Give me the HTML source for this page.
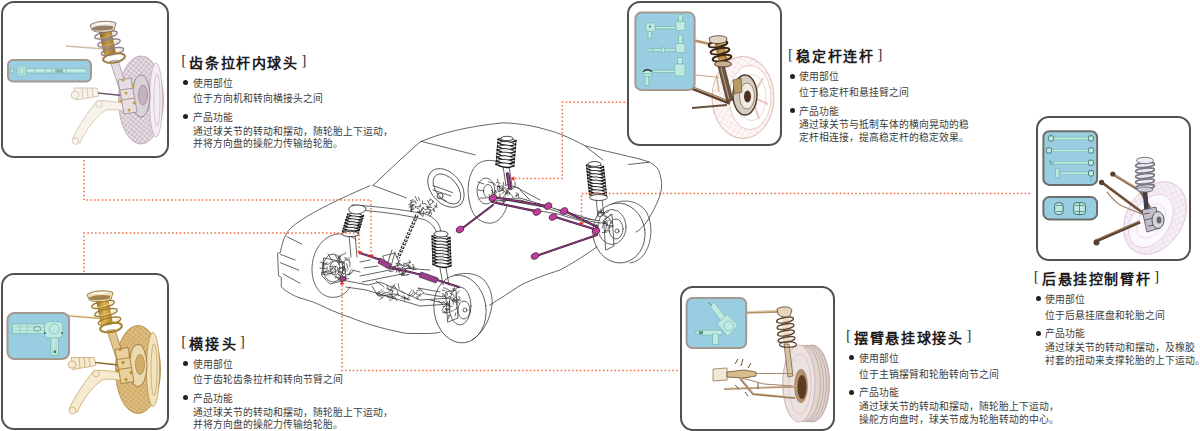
<!DOCTYPE html>
<html lang="zh-CN"><head><meta charset="utf-8">
<style>
html,body{margin:0;padding:0;background:#fff;}
body{width:1200px;height:431px;overflow:hidden;position:relative;font-family:"Liberation Sans",sans-serif;}
.box{position:absolute;box-sizing:border-box;border:2px solid #545050;border-radius:13px;overflow:hidden;}
.box svg{position:absolute;left:-2px;top:-2px;}
.pan{position:absolute;box-sizing:border-box;border:2px solid #a0968e;border-radius:5px;background:#95cce2;overflow:hidden;}
.pan.dk{border-color:#6a6e68;}
svg{position:absolute;left:0;top:0;overflow:visible;}
.ti{position:absolute;white-space:nowrap;font-family:"Liberation Serif",serif;font-size:15.5px;line-height:14px;color:#3a3a3a;}
.tc{display:inline-block;vertical-align:top;font-family:"Liberation Sans",sans-serif;font-size:14px;margin:0 4.2px 0 2.9px;color:#1e1a1a;font-weight:bold;text-align:justify;text-align-last:justify;white-space:nowrap;}
.t{position:absolute;white-space:nowrap;font-size:9.8px;line-height:10px;color:#3c3c3c;text-align:justify;text-align-last:justify;}
.br{position:relative;top:-2.4px;}
.bu{position:absolute;width:5px;height:5px;border-radius:50%;background:#222;}
.nocjk .t{-webkit-text-stroke:0.26px currentColor;font-size:12.8px;color:#585858;}
.nocjk .tc{-webkit-text-stroke:1.5px currentColor;font-size:18.5px;}
</style></head><body>
<svg id="main" width="1200" height="431" viewBox="0 0 1200 431">
<g fill="none" stroke="#333" stroke-width="0.75" stroke-linecap="round" stroke-linejoin="round">
<path d="M370 185.8C355 192 340 199 328 205C314 212 300 220 292 227C289 230 288 231 286.9 233C283.5 238 281.5 246 280.4 252.5L277.6 253.4L278.5 275.7L281.3 277.6L281.3 286.9C285 291 292 295 300 298"/>
<path d="M373 185.4L400 160L420 142C440 133 470 126 503 122.8C515 123 528 125 538 127.4C546 129.5 554 131.5 561 134.4C570 138 578 142 584.4 145.5C600 150 615 153 628.5 156.4C636 158 644 160 649.4 162.2C654 164.5 657 167 658.6 170.3C661 176 662 182 661.5 188C661 192 660 196 658.6 199C656 206 652 213 648 220"/>
<path d="M373 185.4L406.4 197.9"/>
<path d="M421 141.3L475.2 154.9"/>
<path d="M585 146L603 160"/>
<path d="M300 298C315 302 320 305 326.4 308C335 312 342 314.5 349.6 317.2C358 320.5 365 323 372.8 325.4C382 328 389 330 396 331.2C402 332.5 405 333.5 410 333.5H428C433 333.4 437 333 440 332.3"/>
<path d="M489.6 305.2C500 299 510 292 520 285.5C535 278 548 274 560 270C575 262 587 254 597.3 246.6"/>
<path d="M286.9 236.7L301.7 244.1M280.4 254.4L295.2 260M280.4 262.7L298.9 270.2M283.1 273.9L299.9 283.2"/>
<path d="M648 220C644 226 640 230 636 232"/>
<path d="M628.5 164.5L649.4 162.2"/>
<path d="M337 234C322 236 312 252 312 269C312 287 322 298 334 297.3C342 297 347 292 350 287"/>
<path d="M337 234C345 233.5 352 236 356 240"/>
<ellipse cx="460" cy="309" rx="26" ry="34" transform="rotate(-8 460 309)"/>
<path d="M454.8 275C465 272 477 273 484 280C490 287 493 296 492 305C490 320 483 333 472 340"/>
<path d="M469 200C466 185 470 168 480 162.5C486 159.5 493 160 498 162M469 200C471 214 478 223 489.8 223.2C498 223 504 216 507 206"/>
<ellipse cx="619" cy="233" rx="26" ry="30" transform="rotate(-8 619 233)"/>
<path d="M612 204C625 198 640 201 647 213C653 225 652 242 645 253C641 259 636 262 630 263"/>
<ellipse cx="446" cy="188" rx="22" ry="15" transform="rotate(50 446 188)"/>
<ellipse cx="447" cy="189" rx="17.5" ry="10.5" transform="rotate(50 447 189)"/>
<path d="M433 185.6L452.6 192.6M433 190L451 196M437 196.8L446 201"/>
<circle cx="440" cy="196" r="3"/>
<path d="M352 205C372 206 400 209 425 214C435 217 440 224 441 232"/>
<path d="M356 210C376 211 400 214 424 219.5C431 222.5 435 227 436.5 233"/>
<path d="M349 234L351 257M355 234L357 257"/>
<path d="M440 268L443 285M446 268L449 285"/>
<path d="M503 166L506 186M509 166L512 186"/>
<path d="M596 199L598 216M602 199L604 216"/>
<ellipse cx="333" cy="268" rx="10" ry="14"/><ellipse cx="335" cy="268" rx="5" ry="7"/>
<path d="M324 258L344 262L346 280L330 284L322 276Z"/>
<path d="M320 262l6 2M320 268l7 1M322 274l6 1M328 254l3 5M338 256l2 6"/>
<ellipse cx="460" cy="306" rx="11" ry="19"/><ellipse cx="464" cy="310" rx="6" ry="9"/><circle cx="465" cy="310" r="2"/>
<path d="M446 292L456 290L458 318L448 322Z"/>
<ellipse cx="486" cy="191" rx="9" ry="13"/><ellipse cx="488" cy="191" rx="4.5" ry="6.5"/>
<path d="M478 182l6 2M478 190l6 1M480 198l6 0"/>
<ellipse cx="612" cy="227" rx="14" ry="17.5"/><ellipse cx="616" cy="229" rx="7" ry="10"/><circle cx="617" cy="231" r="2"/>
<path d="M604 220L612 214L614 246L606 250Z"/>
<path d="M342 280L368 285L380 282L420 300L452 298M346 287L366 290L420 306L450 304"/>
<path d="M360 276L400 268L430 270M362 282L402 274"/>
<path d="M372 286L378 296L396 294L410 300M376 281L384 287"/>
<path d="M392 250L386 268M395 252L390 270"/>
<path d="M383 256L395 253L400 265L388 268Z"/>
<path d="M360 262L370 260M364 268L378 266M352 270L360 272"/>
<path d="M418 288L440 292M425 294L444 297M430 300L444 303"/>
<path d="M505 200L560 210L600 222M505 205L558 214L598 226"/>
<path d="M514 186L540 200M520 190L530 200"/>
</g>
<path d="M335.9 272.2L334.9 274.2M335.6 269.6L335.6 271.8M341.5 267.3Q344.7 269.3 342.7 272.5M342.1 279.4L337.9 280.1M342.6 266.8Q341.9 268.9 339.8 268.2M345.3 272.9L343.0 274.4M332.3 259.9Q333.2 261.2 331.9 262.1M341.0 278.3L341.7 281.5M332.1 268.9Q331.6 272.3 328.2 271.8M330.6 262.2Q329.2 265.4 326.0 264.0M342.5 264.9Q345.5 266.7 343.8 269.8M336.3 266.0L333.8 270.4M345.2 260.3L342.7 263.9M326.7 271.4L322.9 272.1M351.0 270.0L348.3 275.3M336.5 276.2L335.5 278.0M338.0 272.0Q341.0 270.0 343.0 272.9M339.2 276.9L337.1 277.8M326.9 262.2Q326.0 266.0 322.3 265.2M333.0 271.5Q331.3 275.3 327.5 273.6M339.8 273.1L342.7 275.8M337.5 267.3L338.4 270.6M350.0 262.1L349.8 266.6M353.5 271.0L349.3 274.5M328.5 273.2Q331.3 271.8 332.8 274.7M342.8 270.0Q345.1 269.3 345.7 271.6M342.2 267.5Q344.4 266.4 345.5 268.5M344.9 259.0L347.6 260.3M337.2 270.6L331.9 273.3M332.0 267.9Q334.2 266.8 335.2 269.0M338.0 262.5L343.8 262.9M342.6 276.6L346.7 277.0M345.0 257.3Q347.4 257.3 347.4 259.8M340.8 256.1Q340.6 258.4 338.2 258.2M345.9 253.0L341.3 255.4M337.6 259.2Q339.3 261.0 337.5 262.6M344.2 267.7L347.4 271.1M327.2 272.6L321.4 272.8M338.2 274.2L340.5 275.8M349.0 257.6L349.3 262.2M351.0 273.5L346.0 274.9M333.0 267.8L330.4 269.9M346.4 263.6L348.2 269.1M338.1 271.4L343.1 274.0M348.6 278.7L344.0 279.0M329.9 266.2L335.8 266.5M323.1 262.9L324.3 268.3M338.9 274.1L340.7 276.5M334.8 276.6L340.0 278.8M328.7 270.4L325.2 271.5M327.1 266.9L327.0 268.9M339.5 268.1L337.3 269.7M335.2 255.2L337.3 258.7M339.3 261.8Q340.5 263.5 338.8 264.7M340.0 254.9L339.0 259.9" fill="none" stroke="#2a2a2a" stroke-width="0.7" stroke-linecap="round"/>
<path d="M411.0 207.4L411.0 211.5M411.3 206.1L411.7 211.8M430.9 199.3L433.8 202.4M423.2 203.5Q425.7 202.4 426.7 204.9M423.5 207.2L420.9 211.6M429.8 212.2L428.6 214.4M430.7 205.9L427.1 206.4M434.0 205.6L437.3 207.4M417.2 208.3Q420.5 209.1 419.8 212.4M411.0 204.9L414.3 205.1M420.8 206.7L415.6 206.9M425.6 209.5Q428.4 207.3 430.7 210.2M431.2 210.5Q429.4 213.8 426.2 212.0M431.0 211.6Q432.8 214.5 430.0 216.3M433.4 208.5L433.9 210.8M410.5 200.3Q413.8 198.4 415.7 201.7M427.6 200.6L429.6 204.2M421.5 208.7Q422.9 210.3 421.3 211.7M422.5 207.8L425.1 209.7M422.5 200.8L422.5 203.5M427.0 207.4L431.9 207.6M427.0 212.5L424.7 213.0M413.9 208.7L410.8 210.5M415.1 196.4L417.6 201.1M415.2 201.7Q416.7 202.2 416.2 203.7M432.7 209.4Q434.6 209.4 434.6 211.3M430.4 198.6Q430.9 200.7 428.8 201.3M417.6 212.0Q420.2 211.2 420.9 213.8M436.6 203.4L436.1 206.4M417.0 212.0L420.5 212.0M415.3 205.9Q416.3 206.9 415.3 207.9M429.0 209.9L431.0 210.2M423.5 211.4L423.0 216.3M418.5 197.2L419.6 200.3M430.0 212.2L429.1 214.2M433.0 200.6Q433.2 204.3 429.5 204.5M413.7 204.8L409.2 207.3M411.1 200.7Q411.8 204.0 408.5 204.7M426.9 206.5L427.9 208.7M411.8 202.3L410.0 206.6M436.8 205.7L434.0 208.6M420.9 203.9Q421.0 206.1 418.9 206.2M418.8 213.2L422.7 216.1M412.6 204.8L412.9 209.6M411.8 201.9Q413.4 200.9 414.3 202.5" fill="none" stroke="#2a2a2a" stroke-width="0.7" stroke-linecap="round"/>
<path d="M403.9 263.1Q404.7 264.4 403.5 265.1M404.1 271.8Q404.7 275.0 401.4 275.6M395.1 266.3L395.3 268.7M409.0 274.4L407.0 274.8M409.2 260.2Q411.0 261.5 409.7 263.3M409.9 265.7L409.3 268.2M410.2 266.2L406.8 268.3M404.1 264.2Q402.8 266.6 400.3 265.4M412.9 266.5Q414.7 267.9 413.4 269.7M400.8 270.8L399.1 271.8M408.8 265.4L404.0 266.5M401.0 269.3L403.0 275.0M397.8 270.7Q399.4 270.8 399.3 272.4M409.0 264.5Q407.8 266.2 406.1 265.1M397.2 265.1L399.5 270.5M410.7 262.1L405.1 263.6M404.7 265.1L402.2 267.9M396.9 264.6Q400.2 262.2 402.5 265.5M395.0 266.7L398.0 270.7M402.1 271.9L404.6 275.4M404.4 268.7L408.8 272.2M408.2 274.5Q406.3 276.4 404.4 274.6M404.8 268.9Q406.4 269.4 405.9 271.0M405.8 272.4L401.1 274.1M395.3 269.1Q397.5 270.0 396.6 272.2M399.9 274.0L403.7 275.6M406.9 264.4L408.9 266.7M394.5 269.0Q393.3 272.7 389.6 271.5M416.6 268.6L412.9 269.8M414.7 267.4L409.6 268.6M409.1 267.0L411.6 267.8M400.2 260.1L397.3 263.6M392.1 269.1Q395.0 266.8 397.2 269.7M412.4 264.3Q414.2 264.6 413.9 266.3M395.8 263.2L398.0 264.0" fill="none" stroke="#2a2a2a" stroke-width="0.7" stroke-linecap="round"/>
<path d="M442.9 295.6Q446.0 295.4 446.3 298.5M450.1 312.0L445.6 312.6M443.1 301.2L447.3 305.2M449.5 301.9L449.5 306.6M451.0 314.7Q450.0 316.5 448.2 315.4M447.4 309.7L445.8 312.0M447.2 288.9L451.9 292.4M450.1 293.4Q453.7 293.1 454.0 296.7M455.5 297.8L457.9 299.4M443.5 287.8Q445.8 287.0 446.7 289.4M452.6 300.8L454.8 301.2M459.5 290.8L455.5 295.2M450.4 307.6Q448.4 310.5 445.5 308.6M446.2 292.0Q448.4 292.9 447.5 295.1M454.0 299.6Q457.9 300.8 456.6 304.8M453.3 298.0L455.6 302.8M447.8 301.7L448.1 305.2M453.1 310.7L451.1 311.4M452.3 288.9Q453.5 288.0 454.4 289.2M456.4 296.1L452.5 300.1M449.2 316.1L448.1 318.9M445.4 309.6L450.4 309.7M442.1 290.3L445.0 290.5M458.9 296.4L459.9 299.2M438.2 301.2L442.6 304.0M454.4 287.8L453.3 290.9M442.9 312.5L445.6 313.1M447.9 305.8L452.1 306.3M460.9 300.1Q459.4 301.7 457.8 300.2M457.0 306.9Q457.3 309.6 454.6 309.9M444.5 306.2L441.9 310.4M449.6 296.5L446.8 298.0M442.8 311.0Q444.9 310.6 445.2 312.7M455.8 312.8L455.0 316.0M455.2 299.7L459.1 303.2M453.0 299.1L453.4 304.3M451.0 299.4Q452.7 299.6 452.5 301.3M459.2 299.6L455.8 300.3M447.4 302.7Q447.0 306.8 442.9 306.4M442.2 293.7Q444.6 293.5 444.9 295.9" fill="none" stroke="#2a2a2a" stroke-width="0.7" stroke-linecap="round"/>
<path d="M499.3 196.1Q500.8 199.0 497.9 200.5M504.0 191.4L502.5 193.7M500.0 202.0Q500.9 203.3 499.7 204.2M491.0 196.8Q491.6 198.4 490.0 199.0M493.6 182.9L495.6 185.4M493.0 199.4L494.6 202.7M501.6 190.4Q505.1 189.8 505.6 193.3M506.8 189.9L508.1 195.0M501.6 185.6L503.4 186.6M488.2 181.8L492.5 183.0M491.5 190.3L494.1 193.4M505.4 196.1Q504.7 200.1 500.6 199.4M506.4 200.9Q504.6 203.0 502.5 201.2M505.3 187.7L501.0 189.0M500.8 200.6L503.6 202.9M497.9 186.0L500.6 188.3M492.4 193.3L495.9 196.8M505.8 193.7L504.2 195.2M503.6 196.6L502.9 201.0M489.1 194.5L490.2 199.0M496.2 190.9Q497.3 193.5 494.7 194.6M497.6 179.2L498.0 181.9M499.8 193.7L500.3 196.1M495.3 190.8L494.3 192.9M496.4 182.5L500.3 183.2M503.6 189.2L498.2 191.8M500.9 186.6L496.9 186.9M503.1 187.6Q502.6 191.6 498.6 191.1M488.9 199.8Q492.7 198.7 493.8 202.4M498.7 184.6Q501.5 187.5 498.6 190.3M495.8 200.3Q497.3 200.6 496.9 202.1M504.1 200.3Q505.0 204.2 501.1 205.0M498.0 185.4L497.6 190.0M503.4 182.4Q505.4 185.8 502.0 187.7M504.9 189.1Q508.2 190.7 506.6 194.0" fill="none" stroke="#2a2a2a" stroke-width="0.7" stroke-linecap="round"/>
<path d="M609.8 219.2L611.9 223.7M604.8 230.9Q607.8 228.7 610.1 231.7M598.9 210.6L597.7 215.1M603.7 221.0L607.6 223.0M594.2 220.5L596.8 221.7M603.9 221.0L605.0 223.2M605.5 229.7L604.7 232.4M602.2 222.4Q601.0 224.1 599.3 223.0M612.3 226.4L607.6 228.4M604.8 221.4L603.0 225.2M602.8 215.2Q600.8 218.1 597.9 216.1M605.7 218.8Q607.4 220.7 605.4 222.4M609.3 225.7L613.5 225.9M607.2 224.3L605.8 228.1M604.6 216.1Q606.8 216.5 606.4 218.7M610.7 214.4L609.5 216.0M605.1 212.4Q605.2 215.1 602.5 215.2M605.8 225.3L609.1 225.8M602.1 210.4L600.3 212.8M596.8 224.6L596.5 227.7M609.1 220.4Q608.5 221.7 607.1 221.2M607.1 231.9L602.2 232.7M605.7 215.4L609.8 219.2M603.4 212.7L599.5 213.0M600.8 209.1L601.8 213.9M603.0 226.1L602.1 228.2M602.2 222.6L607.6 224.5M602.6 223.3L607.3 223.9M599.3 211.8L603.6 212.7M608.4 211.7L606.3 212.5" fill="none" stroke="#2a2a2a" stroke-width="0.7" stroke-linecap="round"/>
<path d="M418.1 288.8Q420.7 287.6 421.9 290.2M424.1 292.7L419.0 296.1M389.6 289.7L392.9 290.8M403.4 295.3Q405.3 296.4 404.2 298.3M394.9 296.7L396.8 300.9M378.4 291.4L377.3 294.3M379.0 292.5L382.1 298.3M401.2 298.4Q405.6 296.0 408.1 300.4M413.7 290.3Q413.5 295.9 407.9 295.7M384.8 292.1L381.6 294.5M384.8 295.4Q390.3 295.6 390.1 301.0M404.4 296.9L404.4 300.5M420.6 293.2L416.6 298.8M389.4 293.0Q394.2 295.3 391.8 300.0M401.2 291.0L404.6 293.6M387.2 292.2L383.3 293.7M381.8 289.6L377.3 294.0M398.4 294.0L392.8 296.9M409.9 295.1Q409.6 299.3 405.5 299.0M376.6 293.2L379.5 295.9M391.9 286.0Q394.5 285.2 395.3 287.7M389.9 296.4Q393.1 295.5 394.0 298.6M416.5 290.8Q421.5 288.4 423.9 293.3M384.9 295.6L379.6 299.6M404.5 297.6L408.3 298.9M417.4 292.0L412.3 295.9M386.3 288.2L391.7 290.8M398.1 283.5L399.3 289.2M392.3 291.8L387.5 297.4M394.8 284.2L391.5 289.5M390.2 297.3L395.1 298.9M393.8 285.8L397.4 289.4M390.9 286.6Q392.2 291.9 386.9 293.2M387.1 285.3L389.0 290.5M414.2 292.6L420.2 295.9M393.1 290.0L391.8 295.5M383.3 291.1L378.5 294.0M411.8 289.9L409.1 294.0M416.4 296.4Q418.6 297.1 417.8 299.3M397.1 291.0L398.4 295.9" fill="none" stroke="#2a2a2a" stroke-width="0.6" stroke-linecap="round"/>
<path d="M507.6 191.7L511.4 194.9M509.8 188.3Q509.4 190.8 506.9 190.4M518.7 193.8L515.0 196.4M510.2 188.4L506.8 188.7M514.9 181.9L515.2 185.0M516.0 192.7Q519.6 194.0 518.4 197.6M508.8 191.5Q510.5 192.5 509.4 194.2M510.1 184.7L512.4 186.9M507.1 191.3L505.4 194.3M515.6 187.0L510.8 189.9M517.1 194.7Q517.6 196.1 516.2 196.6M517.3 187.2Q519.0 187.2 519.0 188.9M512.1 195.9L513.3 198.2M514.9 186.1L510.8 187.6M510.4 181.8Q509.9 185.5 506.2 185.1" fill="none" stroke="#2a2a2a" stroke-width="0.7" stroke-linecap="round"/>
<path d="M417 215L398 258" fill="none" stroke="#222" stroke-width="3.4" stroke-dasharray="2.6 1.2"/>
<path d="M417 215L398 258" fill="none" stroke="#fff" stroke-width="1.4" stroke-dasharray="1.6 2.2"/>
<g fill="#fff" stroke="#141414" stroke-linecap="round"><path d="M347.5 214.2Q355.5 219.4 363.5 215.8" stroke-width="1.5"/><path d="M347.5 214.2Q355.5 211.2 363.5 215.8" stroke-width="0.83"/><path d="M346.7 217.1Q354.7 222.2 362.7 218.6" stroke-width="1.5"/><path d="M346.7 217.1Q354.7 214.0 362.7 218.6" stroke-width="0.83"/><path d="M345.8 219.9Q353.8 225.0 361.8 221.4" stroke-width="1.5"/><path d="M345.8 219.9Q353.8 216.8 361.8 221.4" stroke-width="0.83"/><path d="M345.0 222.7Q353.0 227.9 361.0 224.3" stroke-width="1.5"/><path d="M345.0 222.7Q353.0 219.7 361.0 224.3" stroke-width="0.83"/><path d="M344.2 225.6Q352.2 230.7 360.2 227.1" stroke-width="1.5"/><path d="M344.2 225.6Q352.2 222.5 360.2 227.1" stroke-width="0.83"/><path d="M343.3 228.4Q351.3 233.5 359.3 229.9" stroke-width="1.5"/><path d="M343.3 228.4Q351.3 225.3 359.3 229.9" stroke-width="0.83"/><path d="M342.5 231.2Q350.5 236.4 358.5 232.8" stroke-width="1.5"/><path d="M342.5 231.2Q350.5 228.2 358.5 232.8" stroke-width="0.83"/><path d="M347.5 215.0L342.5 232.0M363.5 215.0L358.5 232.0" stroke-width="0.7"/></g>
<g fill="#fff" stroke="#141414" stroke-linecap="round"><path d="M432.0 236.1Q441.0 241.9 450.0 237.9" stroke-width="1.5"/><path d="M432.0 236.1Q441.0 232.7 450.0 237.9" stroke-width="0.83"/><path d="M432.1 239.2Q441.1 245.0 450.1 241.0" stroke-width="1.5"/><path d="M432.1 239.2Q441.1 235.8 450.1 241.0" stroke-width="0.83"/><path d="M432.2 242.4Q441.2 248.1 450.2 244.1" stroke-width="1.5"/><path d="M432.2 242.4Q441.2 238.9 450.2 244.1" stroke-width="0.83"/><path d="M432.3 245.5Q441.3 251.2 450.3 247.2" stroke-width="1.5"/><path d="M432.3 245.5Q441.3 242.0 450.3 247.2" stroke-width="0.83"/><path d="M432.4 248.6Q441.4 254.3 450.4 250.3" stroke-width="1.5"/><path d="M432.4 248.6Q441.4 245.1 450.4 250.3" stroke-width="0.83"/><path d="M432.6 251.7Q441.6 257.5 450.6 253.4" stroke-width="1.5"/><path d="M432.6 251.7Q441.6 248.2 450.6 253.4" stroke-width="0.83"/><path d="M432.7 254.8Q441.7 260.6 450.7 256.5" stroke-width="1.5"/><path d="M432.7 254.8Q441.7 251.3 450.7 256.5" stroke-width="0.83"/><path d="M432.8 257.9Q441.8 263.7 450.8 259.6" stroke-width="1.5"/><path d="M432.8 257.9Q441.8 254.5 450.8 259.6" stroke-width="0.83"/><path d="M432.9 261.0Q441.9 266.8 450.9 262.8" stroke-width="1.5"/><path d="M432.9 261.0Q441.9 257.6 450.9 262.8" stroke-width="0.83"/><path d="M433.0 264.1Q442.0 269.9 451.0 265.9" stroke-width="1.5"/><path d="M433.0 264.1Q442.0 260.7 451.0 265.9" stroke-width="0.83"/><path d="M432.0 237.0L433.0 265.0M450.0 237.0L451.0 265.0" stroke-width="0.7"/></g>
<g fill="#fff" stroke="#141414" stroke-linecap="round"><path d="M498.0 139.1Q507.0 144.9 516.0 140.9" stroke-width="1.5"/><path d="M498.0 139.1Q507.0 135.7 516.0 140.9" stroke-width="0.83"/><path d="M497.7 142.7Q506.7 148.5 515.7 144.4" stroke-width="1.5"/><path d="M497.7 142.7Q506.7 139.3 515.7 144.4" stroke-width="0.83"/><path d="M497.4 146.3Q506.4 152.0 515.4 148.0" stroke-width="1.5"/><path d="M497.4 146.3Q506.4 142.8 515.4 148.0" stroke-width="0.83"/><path d="M497.1 149.9Q506.1 155.6 515.1 151.6" stroke-width="1.5"/><path d="M497.1 149.9Q506.1 146.4 515.1 151.6" stroke-width="0.83"/><path d="M496.9 153.4Q505.9 159.2 514.9 155.1" stroke-width="1.5"/><path d="M496.9 153.4Q505.9 150.0 514.9 155.1" stroke-width="0.83"/><path d="M496.6 157.0Q505.6 162.8 514.6 158.7" stroke-width="1.5"/><path d="M496.6 157.0Q505.6 153.5 514.6 158.7" stroke-width="0.83"/><path d="M496.3 160.6Q505.3 166.3 514.3 162.3" stroke-width="1.5"/><path d="M496.3 160.6Q505.3 157.1 514.3 162.3" stroke-width="0.83"/><path d="M496.0 164.1Q505.0 169.9 514.0 165.9" stroke-width="1.5"/><path d="M496.0 164.1Q505.0 160.7 514.0 165.9" stroke-width="0.83"/><path d="M498.0 140.0L496.0 165.0M516.0 140.0L514.0 165.0" stroke-width="0.7"/></g>
<g fill="#fff" stroke="#141414" stroke-linecap="round"><path d="M586.5 165.2Q595.0 170.6 603.5 166.8" stroke-width="1.5"/><path d="M586.5 165.2Q595.0 161.9 603.5 166.8" stroke-width="0.83"/><path d="M586.8 168.4Q595.3 173.8 603.8 170.0" stroke-width="1.5"/><path d="M586.8 168.4Q595.3 165.1 603.8 170.0" stroke-width="0.83"/><path d="M587.2 171.6Q595.7 177.1 604.2 173.3" stroke-width="1.5"/><path d="M587.2 171.6Q595.7 168.4 604.2 173.3" stroke-width="0.83"/><path d="M587.5 174.9Q596.0 180.3 604.5 176.5" stroke-width="1.5"/><path d="M587.5 174.9Q596.0 171.6 604.5 176.5" stroke-width="0.83"/><path d="M587.8 178.1Q596.3 183.5 604.8 179.7" stroke-width="1.5"/><path d="M587.8 178.1Q596.3 174.8 604.8 179.7" stroke-width="0.83"/><path d="M588.2 181.3Q596.7 186.7 605.2 182.9" stroke-width="1.5"/><path d="M588.2 181.3Q596.7 178.0 605.2 182.9" stroke-width="0.83"/><path d="M588.5 184.5Q597.0 190.0 605.5 186.1" stroke-width="1.5"/><path d="M588.5 184.5Q597.0 181.3 605.5 186.1" stroke-width="0.83"/><path d="M588.8 187.7Q597.3 193.2 605.8 189.4" stroke-width="1.5"/><path d="M588.8 187.7Q597.3 184.5 605.8 189.4" stroke-width="0.83"/><path d="M589.2 191.0Q597.7 196.4 606.2 192.6" stroke-width="1.5"/><path d="M589.2 191.0Q597.7 187.7 606.2 192.6" stroke-width="0.83"/><path d="M589.5 194.2Q598.0 199.6 606.5 195.8" stroke-width="1.5"/><path d="M589.5 194.2Q598.0 190.9 606.5 195.8" stroke-width="0.83"/><path d="M586.5 166.0L589.5 195.0M603.5 166.0L606.5 195.0" stroke-width="0.7"/></g>
<g fill="#fff" stroke="#1e1e1e" stroke-width="0.8"><path d="M349 208C352 204 362 204 366 208C366 212 360 214 356 214C351 214 348 211 349 208Z"/><ellipse cx="350.5" cy="234" rx="8.5" ry="2.6"/><ellipse cx="441" cy="234" rx="7" ry="3"/><ellipse cx="507" cy="138.5" rx="6" ry="2.2"/><ellipse cx="594.5" cy="164" rx="6.5" ry="2.4"/><ellipse cx="598.5" cy="197.5" rx="9" ry="3"/></g>
<path d="M493 200L520 199L547 207L580 218.6L600 222" fill="none" stroke="#333" stroke-width="2.6"/><path d="M493 200L520 199L547 207L580 218.6L600 222" fill="none" stroke="#fff" stroke-width="1.2"/>
<g fill="none" stroke-linecap="round">
<g stroke="#3a1c32" stroke-width="2.1"><path d="M360 253L381 260"/><path d="M389 267L422 275"/><path d="M437 280L459 287"/><path d="M493 197L546 206"/><path d="M492 202L534 211"/><path d="M493 205L462 228.5"/><path d="M552 216L597 230"/><path d="M567 212L597 227"/><path d="M536 256L597 235"/></g>
<g stroke="#a83a92" stroke-width="0.9"><path d="M360 253L381 260"/><path d="M389 267L422 275"/><path d="M437 280L459 287"/><path d="M493 197L546 206"/><path d="M492 202L534 211"/><path d="M493 205L462 228.5"/><path d="M552 216L597 230"/><path d="M567 212L597 227"/><path d="M536 256L597 235"/></g>
</g>
<path d="M507.6 174L510 188" stroke="#3a1c32" stroke-width="3.6" stroke-linecap="round"/><path d="M507.6 174L510 188" stroke="#a83a92" stroke-width="1.8" stroke-linecap="round"/>
<g fill="#9a3f8e" stroke="#4a2440" stroke-width="0.7"><path d="M380 258L391 264L389 269L378 263Z"/><path d="M421 272L438 278L436 283L419 277Z"/><ellipse cx="342.5" cy="279" rx="3" ry="2.5"/></g>
<g fill="#c23c9e" stroke="#4a2440" stroke-width="0.8">
<ellipse cx="548" cy="206" rx="4" ry="3" transform="rotate(-25 548 206)"/>
<ellipse cx="537" cy="212" rx="4" ry="3" transform="rotate(-25 537 212)"/>
<ellipse cx="564" cy="211" rx="4" ry="3" transform="rotate(-25 564 211)"/>
<ellipse cx="553" cy="217" rx="4" ry="3" transform="rotate(-25 553 217)"/>
<ellipse cx="460" cy="229.5" rx="4" ry="3" transform="rotate(-25 460 229.5)"/>
<ellipse cx="535" cy="256" rx="4" ry="3" transform="rotate(-25 535 256)"/>
<ellipse cx="596" cy="231" rx="4" ry="3" transform="rotate(-25 596 231)"/>
<ellipse cx="493" cy="198" rx="4" ry="3" transform="rotate(-25 493 198)"/>
</g><g fill="none" stroke="#f06a3c" stroke-width="1.5" stroke-dasharray="1.5 2.35">
<path d="M84 160V200H371V254"/>
<path d="M84 272V233H359V251"/>
<path d="M342 285V370.5H678"/>
<path d="M625 102.3H562.3V178.6H515"/>
<path d="M1030 193.5H581.5V222"/>
</g>
<g fill="#ec2a1c">
<path d="M369 254.6L373.8 254.6L371.4 258.4Z"/>
<path d="M357.3 251.2L362.1 251.2L359.7 255Z"/>
<path d="M339.6 284.6L344.4 284.6L342 280.8Z"/>
<path d="M514.3 176.2L514.3 181L510.5 178.6Z"/>
<path d="M579.1 222.2L583.9 222.2L581.5 226Z"/>
</g>
</svg>
<div class="box" style="left:1px;top:1px;width:167.5px;height:157px"></div>
<div class="box" style="left:1px;top:273.4px;width:167.5px;height:157px"></div>
<div class="box" style="left:626.5px;top:1px;width:155px;height:145px"></div>
<div class="box" style="left:1036px;top:116px;width:155px;height:145px"></div>
<div class="box" style="left:680px;top:285.5px;width:155px;height:145px"></div>
<svg width="1200" height="431" viewBox="0 0 1200 431">
<defs>
<pattern id="hatA" width="3.6" height="3.6" patternUnits="userSpaceOnUse" patternTransform="rotate(40)"><rect width="3.6" height="3.6" fill="#e6dee4"/><path d="M0 0H3.6M0 0V3.6" stroke="#ab94a3" stroke-width="0.75"/></pattern>
<pattern id="hatB" width="3.6" height="3.6" patternUnits="userSpaceOnUse" patternTransform="rotate(40)"><rect width="3.6" height="3.6" fill="#dfbd7e"/><path d="M0 0H3.6M0 0V3.6" stroke="#b78f45" stroke-width="0.7"/></pattern>
<pattern id="hatC" width="5" height="5" patternUnits="userSpaceOnUse" patternTransform="rotate(30)"><rect width="5" height="5" fill="#fdf8f8"/><path d="M0 0H5M0 0V5" stroke="#e8c2bc" stroke-width="0.6"/></pattern>
<pattern id="hatD" width="5" height="5" patternUnits="userSpaceOnUse" patternTransform="rotate(30)"><rect width="5" height="5" fill="#f6f0f6"/><path d="M0 0H5M0 0V5" stroke="#dcc2da" stroke-width="0.6"/></pattern>
<linearGradient id="gShock" x1="0" y1="0" x2="1" y2="0"><stop offset="0" stop-color="#7a5626"/><stop offset="0.5" stop-color="#c89a48"/><stop offset="1" stop-color="#8a6a30"/></linearGradient>
<linearGradient id="gShockB" x1="0" y1="0" x2="1" y2="0"><stop offset="0" stop-color="#9a7020"/><stop offset="0.5" stop-color="#e0b450"/><stop offset="1" stop-color="#a8802c"/></linearGradient>
<clipPath id="c1"><rect x="3" y="3" width="163" height="153" rx="11"/></clipPath>
<clipPath id="c2"><rect x="3" y="275" width="163" height="153" rx="11"/></clipPath>
<clipPath id="c3"><rect x="628.5" y="3" width="151" height="141" rx="11"/></clipPath>
<clipPath id="c4"><rect x="1038" y="118" width="151" height="141" rx="11"/></clipPath>
<clipPath id="c5"><rect x="682" y="287.5" width="151" height="141" rx="11"/></clipPath>
</defs>
<g clip-path="url(#c1)"><path d="M66 46L104 49" stroke="#cdbda8" stroke-width="1.4" fill="none"/><path d="M66 44.6L104 47.6" stroke="#f7f2ea" stroke-width="0.8" fill="none"/><ellipse cx="141" cy="100" rx="22.5" ry="44" fill="url(#hatA)" stroke="#b7a0ae" stroke-width="0.8"/><ellipse cx="156" cy="100" rx="6.5" ry="37" fill="#f3eef3" stroke="#b7a0ae" stroke-width="0.6"/><ellipse cx="157" cy="100" rx="3" ry="26" fill="none" stroke="#b7a0ae" stroke-width="0.5"/><ellipse cx="141" cy="96" rx="9" ry="21" fill="#dbd1d8" stroke="#8f7d88" stroke-width="0.9"/><ellipse cx="143" cy="95" rx="4.5" ry="10" fill="#c2b3bc" stroke="#8f7d88" stroke-width="0.6"/><path d="M97 101C110 100 124 103 136 107L135 113C122 110 112 109 106 110C95 117 86 130 80 143L72 140C78 126 88 112 97 101Z" fill="#f7f2ea" stroke="#cdbda8" stroke-width="0.8"/><circle cx="99" cy="104" r="3.4" fill="#f7f2ea" stroke="#cdbda8" stroke-width="0.7"/><circle cx="75.5" cy="141" r="3.4" fill="#f7f2ea" stroke="#cdbda8" stroke-width="0.7"/><path d="M74 88L97 88L99 96L76 100Z" fill="#f7f2ea" stroke="#cdbda8" stroke-width="0.8"/><path d="M82 87.5L83 98.5M87 87.5L88 97.8M92 87.8L93 97" stroke="#cdbda8" stroke-width="0.8"/><circle cx="75" cy="95" r="3.8" fill="#f7f2ea" stroke="#cdbda8" stroke-width="0.8"/><path d="M98 93L122 95.5" stroke="#6e5e72" stroke-width="1.6" fill="none"/><path d="M110 61L118 60L128 92L121 94Z" fill="#e3dbe1" stroke="#9a8a92" stroke-width="0.7"/><path d="M118 80L131 78L137 112L124 114Z" fill="#e6dee2" stroke="#9a8a92" stroke-width="0.8"/><path d="M120 90L134 88M121 100L135 98" stroke="#9a8a92" stroke-width="0.8"/><circle cx="123" cy="80" r="1.5" fill="#d0a232"/><circle cx="126" cy="93" r="1.5" fill="#d0a232"/><circle cx="121" cy="101" r="1.5" fill="#d0a232"/><circle cx="129" cy="110" r="1.5" fill="#d0a232"/><circle cx="133" cy="86" r="1.5" fill="#d0a232"/><circle cx="134" cy="103" r="1.5" fill="#d0a232"/><path d="M99 31L111.5 30L116 54L104 55.5Z" fill="url(#gShock)"/><ellipse cx="106.0" cy="35.0" rx="11.5" ry="3.2" transform="rotate(-12 106.0 35.0)" fill="none" stroke="#8e8092" stroke-width="1.3"/><path d="M96.2 36.0Q106.0 39.0 115.8 34.4" transform="rotate(-12 106.0 35.0)" fill="none" stroke="#d8b868" stroke-width="0.7"/><ellipse cx="109.0" cy="43.0" rx="11.5" ry="3.2" transform="rotate(-12 109.0 43.0)" fill="none" stroke="#8e8092" stroke-width="1.3"/><path d="M99.2 44.0Q109.0 47.0 118.8 42.4" transform="rotate(-12 109.0 43.0)" fill="none" stroke="#d8b868" stroke-width="0.7"/><ellipse cx="112.5" cy="51.5" rx="11.5" ry="3.2" transform="rotate(-12 112.5 51.5)" fill="none" stroke="#8e8092" stroke-width="1.3"/><path d="M102.7 52.5Q112.5 55.5 122.3 50.9" transform="rotate(-12 112.5 51.5)" fill="none" stroke="#d8b868" stroke-width="0.7"/><ellipse cx="114" cy="58" rx="11" ry="4.5" transform="rotate(-10 114 58)" fill="none" stroke="#a08048" stroke-width="2"/><path d="M90 25C95 21 110 20 116 23L114 30C108 33 96 33 92 30Z" fill="#ede6e2" stroke="#7a5a3a" stroke-width="0.8"/><path d="M92 28C97 25 106 25 113 26L113 29C107 31 98 31 93 30Z" fill="#7a5a3a" opacity="0.75"/><path d="M96 24L110 23" stroke="#fff" stroke-width="1.4"/></g>
<g clip-path="url(#c2)"><g transform="translate(-3 269.5)"><path d="M66 46L104 49" stroke="#c9a868" stroke-width="1.4" fill="none"/><path d="M66 44.6L104 47.6" stroke="#f6ead0" stroke-width="0.8" fill="none"/><ellipse cx="141" cy="100" rx="22.5" ry="44" fill="url(#hatB)" stroke="#a9813a" stroke-width="0.8"/><ellipse cx="156" cy="100" rx="6.5" ry="37" fill="#f3e3bd" stroke="#a9813a" stroke-width="0.6"/><ellipse cx="157" cy="100" rx="3" ry="26" fill="none" stroke="#a9813a" stroke-width="0.5"/><ellipse cx="141" cy="96" rx="9" ry="21" fill="#ebd9b0" stroke="#9a7436" stroke-width="0.9"/><ellipse cx="143" cy="95" rx="4.5" ry="10" fill="#d0ae6a" stroke="#9a7436" stroke-width="0.6"/><path d="M97 101C110 100 124 103 136 107L135 113C122 110 112 109 106 110C95 117 86 130 80 143L72 140C78 126 88 112 97 101Z" fill="#f6ead0" stroke="#c9a868" stroke-width="0.8"/><circle cx="99" cy="104" r="3.4" fill="#f6ead0" stroke="#c9a868" stroke-width="0.7"/><circle cx="75.5" cy="141" r="3.4" fill="#f6ead0" stroke="#c9a868" stroke-width="0.7"/><path d="M74 88L97 88L99 96L76 100Z" fill="#f6ead0" stroke="#c9a868" stroke-width="0.8"/><path d="M82 87.5L83 98.5M87 87.5L88 97.8M92 87.8L93 97" stroke="#c9a868" stroke-width="0.8"/><circle cx="75" cy="95" r="3.8" fill="#f6ead0" stroke="#c9a868" stroke-width="0.8"/><path d="M98 93L122 95.5" stroke="#8a6a30" stroke-width="1.6" fill="none"/><path d="M110 61L118 60L128 92L121 94Z" fill="#e2c88e" stroke="#9a7436" stroke-width="0.7"/><path d="M118 80L131 78L137 112L124 114Z" fill="#e8d19c" stroke="#9a7436" stroke-width="0.8"/><path d="M120 90L134 88M121 100L135 98" stroke="#9a7436" stroke-width="0.8"/><circle cx="123" cy="80" r="1.5" fill="#b88a2a"/><circle cx="126" cy="93" r="1.5" fill="#b88a2a"/><circle cx="121" cy="101" r="1.5" fill="#b88a2a"/><circle cx="129" cy="110" r="1.5" fill="#b88a2a"/><circle cx="133" cy="86" r="1.5" fill="#b88a2a"/><circle cx="134" cy="103" r="1.5" fill="#b88a2a"/><path d="M99 31L111.5 30L116 54L104 55.5Z" fill="url(#gShockB)"/><ellipse cx="106.0" cy="35.0" rx="11.5" ry="3.2" transform="rotate(-12 106.0 35.0)" fill="none" stroke="#a07a34" stroke-width="1.3"/><path d="M96.2 36.0Q106.0 39.0 115.8 34.4" transform="rotate(-12 106.0 35.0)" fill="none" stroke="#f0d890" stroke-width="0.7"/><ellipse cx="109.0" cy="43.0" rx="11.5" ry="3.2" transform="rotate(-12 109.0 43.0)" fill="none" stroke="#a07a34" stroke-width="1.3"/><path d="M99.2 44.0Q109.0 47.0 118.8 42.4" transform="rotate(-12 109.0 43.0)" fill="none" stroke="#f0d890" stroke-width="0.7"/><ellipse cx="112.5" cy="51.5" rx="11.5" ry="3.2" transform="rotate(-12 112.5 51.5)" fill="none" stroke="#a07a34" stroke-width="1.3"/><path d="M102.7 52.5Q112.5 55.5 122.3 50.9" transform="rotate(-12 112.5 51.5)" fill="none" stroke="#f0d890" stroke-width="0.7"/><ellipse cx="114" cy="58" rx="11" ry="4.5" transform="rotate(-10 114 58)" fill="none" stroke="#a88030" stroke-width="2"/><path d="M90 25C95 21 110 20 116 23L114 30C108 33 96 33 92 30Z" fill="#f0e0b8" stroke="#8a6426" stroke-width="0.8"/><path d="M92 28C97 25 106 25 113 26L113 29C107 31 98 31 93 30Z" fill="#8a6426" opacity="0.75"/><path d="M96 24L110 23" stroke="#fff" stroke-width="1.4"/></g></g>
<g clip-path="url(#c3)"><ellipse cx="743" cy="97.5" rx="31" ry="41" fill="url(#hatC)" stroke="#d9a59c" stroke-width="0.8"/><ellipse cx="750" cy="97.5" rx="21" ry="32" fill="#fff" stroke="#e2b4ac" stroke-width="0.7"/><ellipse cx="752" cy="97.5" rx="14" ry="23" fill="none" stroke="#e6bcb4" stroke-width="0.6"/><path d="M752 97L763 78M752 97L768 104M752 97L759 119M752 97L741 116M752 97L743 75" stroke="#ecc8c0" stroke-width="2" fill="none"/><path d="M692 40L710 44" stroke="#b89060" stroke-width="2.8" fill="none"/><path d="M692 74.5L719 77.5M716.5 75L719 92" stroke="#c8a884" stroke-width="1.2" fill="none"/><path d="M692 88L730 103" stroke="#5e4430" stroke-width="4" fill="none"/><path d="M692 87L730 102" stroke="#c8a882" stroke-width="1.2" fill="none"/><path d="M692 108L727 105" stroke="#6a5038" stroke-width="2.2" fill="none"/><path d="M717 62L723 61L733 100L727 102Z" fill="#6e5644" stroke="#3e2c20" stroke-width="0.7"/><path d="M719.5 62L729 99" stroke="#c9b090" stroke-width="0.9" fill="none"/><ellipse cx="745" cy="95" rx="12" ry="20" fill="#d4ccc2" stroke="#4e3828" stroke-width="1.4"/><ellipse cx="747" cy="96" rx="7.5" ry="13" fill="#f0ebe4" stroke="#8a7050" stroke-width="0.8"/><ellipse cx="747.5" cy="96.5" rx="3.5" ry="6" fill="#4a3020"/><path d="M733 80L741 78L742 92L734 94Z" fill="#b89a60" stroke="#5a4030" stroke-width="0.6"/><path d="M714 41L723 40L728 62L719 63.5Z" fill="url(#gShock)"/><ellipse cx="718.0" cy="44.0" rx="9.5" ry="2.8" transform="rotate(-10 718.0 44.0)" fill="none" stroke="#3a2418" stroke-width="2.0"/><path d="M709.9 44.8Q718.0 47.5 726.1 43.4" transform="rotate(-10 718.0 44.0)" fill="none" stroke="#c8a078" stroke-width="0.8"/><ellipse cx="720.0" cy="51.0" rx="9.5" ry="2.8" transform="rotate(-10 720.0 51.0)" fill="none" stroke="#3a2418" stroke-width="2.0"/><path d="M711.9 51.8Q720.0 54.5 728.1 50.4" transform="rotate(-10 720.0 51.0)" fill="none" stroke="#c8a078" stroke-width="0.8"/><ellipse cx="722.0" cy="58.0" rx="9.5" ry="2.8" transform="rotate(-10 722.0 58.0)" fill="none" stroke="#3a2418" stroke-width="2.0"/><path d="M713.9 58.8Q722.0 61.5 730.1 57.4" transform="rotate(-10 722.0 58.0)" fill="none" stroke="#c8a078" stroke-width="0.8"/><path d="M709 38C713 35 724 35 727 38L726 42C720 44 713 44 710 42Z" fill="#e0d4c4" stroke="#4a3020" stroke-width="0.8"/><ellipse cx="723" cy="64" rx="8.5" ry="3" fill="#c8b090" stroke="#4a3020" stroke-width="0.9"/></g>
<g clip-path="url(#c4)"><ellipse cx="1155" cy="218" rx="28" ry="39" transform="rotate(32 1155 218)" fill="url(#hatD)" stroke="#dcc0da" stroke-width="0.8"/><ellipse cx="1151" cy="221" rx="19" ry="29" transform="rotate(32 1151 221)" fill="#fcf9fc" stroke="#dfc8dd" stroke-width="0.7"/><ellipse cx="1151" cy="221" rx="12" ry="19" transform="rotate(32 1151 221)" fill="none" stroke="#e3cee1" stroke-width="0.6"/><path d="M1112.8 174.2L1140 190.6L1150 208" stroke="#8a6a50" stroke-width="2.6" fill="none"/><path d="M1112.8 173.4L1140 189.8" stroke="#d8c0a8" stroke-width="0.8" fill="none"/><path d="M1101.8 182.4L1144.3 214" stroke="#6e5038" stroke-width="2.6" fill="none"/><path d="M1107 192C1112 198 1116 203 1122 206L1144 215" stroke="#a08068" stroke-width="1.2" fill="none"/><path d="M1095 241.5L1140 222" stroke="#5e4432" stroke-width="3.4" fill="none"/><path d="M1095 240.3L1140 220.8" stroke="#b89a80" stroke-width="0.8" fill="none"/><circle cx="1112.8" cy="174" r="2.6" fill="#5a4030"/><circle cx="1101.6" cy="182.4" r="2.6" fill="#5a4030"/><circle cx="1096.5" cy="242.5" r="3" fill="#5a4030"/><path d="M1142.5 188L1147 188L1149 213L1144.5 213Z" fill="#3e3e4a"/><path d="M1142 210L1156 207L1160 228L1147 232Z" fill="#c4c0ca" stroke="#4a4854" stroke-width="0.8"/><path d="M1144 214l6 -1M1145 220l8 -2M1148 226l7 -1" stroke="#4a4854" stroke-width="0.8"/><ellipse cx="1158" cy="220" rx="6" ry="8.5" fill="#d8d4dc" stroke="#4a4854" stroke-width="0.9"/><ellipse cx="1159" cy="220" rx="2.5" ry="3.5" fill="#6a6874"/><path d="M1140 162L1150 162L1150 189L1141 189Z" fill="#e8e6ee"/><ellipse cx="1145.0" cy="165.0" rx="9.5" ry="2.4" transform="rotate(-6 1145.0 165.0)" fill="none" stroke="#7a7884" stroke-width="1.6"/><ellipse cx="1145.0" cy="170.5" rx="9.5" ry="2.4" transform="rotate(-6 1145.0 170.5)" fill="none" stroke="#7a7884" stroke-width="1.6"/><ellipse cx="1145.0" cy="176.0" rx="9.5" ry="2.4" transform="rotate(-6 1145.0 176.0)" fill="none" stroke="#7a7884" stroke-width="1.6"/><ellipse cx="1145.0" cy="181.5" rx="9.5" ry="2.4" transform="rotate(-6 1145.0 181.5)" fill="none" stroke="#7a7884" stroke-width="1.6"/><ellipse cx="1145.0" cy="187.0" rx="9.5" ry="2.4" transform="rotate(-6 1145.0 187.0)" fill="none" stroke="#7a7884" stroke-width="1.6"/><ellipse cx="1145" cy="160.5" rx="8.5" ry="3.2" fill="#eeebf2" stroke="#5a5864" stroke-width="0.8"/><ellipse cx="1145" cy="189.5" rx="8" ry="2.6" fill="#d0ccd6" stroke="#5a5864" stroke-width="0.8"/></g>
<g clip-path="url(#c5)"><path d="M745 312.5L780 311.5" stroke="#b89468" stroke-width="2.4" fill="none"/><path d="M745 311.7L780 310.7" stroke="#eedcbc" stroke-width="0.8" fill="none"/><path d="M812 345A17 38.5 0 0 1 812 422L799 422A17 38.5 0 0 1 799 345Z" fill="#e0d4cc"/><ellipse cx="812" cy="383.5" rx="17" ry="38.5" fill="#e0d4cc" stroke="#c4b0b0" stroke-width="0.8"/><path d="M803.5 345.2A17 38.3 0 0 1 803.5 421.8" fill="none" stroke="#bfaaa8" stroke-width="1"/><path d="M806.5 345.2A17 38.3 0 0 1 806.5 421.8" fill="none" stroke="#bfaaa8" stroke-width="1"/><path d="M809.5 345.2A17 38.3 0 0 1 809.5 421.8" fill="none" stroke="#bfaaa8" stroke-width="1"/><path d="M812.5 345.2A17 38.3 0 0 1 812.5 421.8" fill="none" stroke="#bfaaa8" stroke-width="1"/><ellipse cx="799" cy="383.5" rx="16" ry="38.5" fill="#ece2e0" stroke="#c9b1b6" stroke-width="0.8"/><ellipse cx="800" cy="384" rx="11" ry="30" fill="none" stroke="#d4c2c4" stroke-width="0.8"/><ellipse cx="801" cy="386" rx="7" ry="17" fill="#b09070"/><ellipse cx="802" cy="387" rx="4.5" ry="12" fill="#5a3c22"/><path d="M784 344L789 344L793 376L788 377Z" fill="#d8c4a4" stroke="#6a5038" stroke-width="0.7"/><path d="M713 369L727 368L727 380L713 381Z" fill="#f2e8d6" stroke="#9a7a50" stroke-width="0.8"/><path d="M727 372L744 370L756 372L756 376L744 378L727 377Z" fill="#d8bc8c" stroke="#6a5030" stroke-width="0.8"/><path d="M735 364l3 -5M741 366l2 -7M748 368l3 -5" stroke="#6a5030" stroke-width="1"/><path d="M756 373.5L792 373.5" stroke="#a08868" stroke-width="1.1" fill="none"/><path d="M724 389L797 386.5" stroke="#a88a66" stroke-width="1.8" fill="none"/><path d="M724 388.3L797 385.8" stroke="#efe0c8" stroke-width="0.6" fill="none"/><path d="M740 378L753 394L795 398" stroke="#9a7a58" stroke-width="2.2" fill="none"/><path d="M740 377L753 393L795 397" stroke="#eadcc4" stroke-width="0.7" fill="none"/><path d="M742 378L764 384L792 386" stroke="#a08466" stroke-width="1" fill="none"/><path d="M735 385l4 4M745 392l3 4M758 383l0 6" stroke="#6a5030" stroke-width="1"/><path d="M782 316L789 316L790 342L783 342Z" fill="#e8dcc8"/><ellipse cx="785.0" cy="320.0" rx="8.5" ry="2.6" transform="rotate(-10 785.0 320.0)" fill="none" stroke="#5e4430" stroke-width="1.4"/><path d="M777.8 320.8Q785.0 323.2 792.2 319.5" transform="rotate(-10 785.0 320.0)" fill="none" stroke="#e8d4b4" stroke-width="0.7"/><ellipse cx="785.5" cy="326.5" rx="8.5" ry="2.6" transform="rotate(-10 785.5 326.5)" fill="none" stroke="#5e4430" stroke-width="1.4"/><path d="M778.3 327.3Q785.5 329.8 792.7 326.0" transform="rotate(-10 785.5 326.5)" fill="none" stroke="#e8d4b4" stroke-width="0.7"/><ellipse cx="786.0" cy="333.0" rx="8.5" ry="2.6" transform="rotate(-10 786.0 333.0)" fill="none" stroke="#5e4430" stroke-width="1.4"/><path d="M778.8 333.8Q786.0 336.2 793.2 332.5" transform="rotate(-10 786.0 333.0)" fill="none" stroke="#e8d4b4" stroke-width="0.7"/><ellipse cx="786.5" cy="339.5" rx="8.5" ry="2.6" transform="rotate(-10 786.5 339.5)" fill="none" stroke="#5e4430" stroke-width="1.4"/><path d="M779.3 340.3Q786.5 342.8 793.7 339.0" transform="rotate(-10 786.5 339.5)" fill="none" stroke="#e8d4b4" stroke-width="0.7"/><path d="M777 309C781 306 790 306 792 310L790 316C786 318 780 317 778 314Z" fill="#e6d6bc" stroke="#5a3a22" stroke-width="0.8"/><ellipse cx="788" cy="344.5" rx="8.5" ry="2.8" fill="none" stroke="#5a3a22" stroke-width="1.1"/></g>
<rect x="8.0" y="60.0" width="83.0" height="21.5" rx="5" fill="#98cde2" stroke="#a3998f" stroke-width="2"/>
<rect x="7.5" y="313.0" width="61.6" height="46.0" rx="7" fill="#98cde2" stroke="#a3998f" stroke-width="2"/>
<rect x="635.4" y="12.6" width="59.2" height="77.3" rx="6" fill="#98cde2" stroke="#a3998f" stroke-width="2"/>
<rect x="1043.4" y="131.2" width="53.7" height="53.7" rx="6" fill="#98cde2" stroke="#6a6e68" stroke-width="2"/>
<rect x="1043.4" y="197.1" width="53.6" height="22.3" rx="6" fill="#98cde2" stroke="#6a6e68" stroke-width="2"/>
<rect x="686.6" y="298.0" width="59.6" height="50.0" rx="6" fill="#98cde2" stroke="#a3998f" stroke-width="2"/>
<g fill="#bfeae2" stroke="#6fb0a6" stroke-width="0.6"><rect x="10.6" y="69" width="3" height="3.6"/><rect x="17" y="65.6" width="9.4" height="10.6" rx="3.5"/><rect x="19.5" y="67.5" width="4.5" height="6.8" rx="1.5"/><rect x="26.4" y="68.6" width="60" height="4.4" rx="1.5"/><path d="M35 68.6V73M45 68.6V73M52 68.6V73M66 68.6V73" fill="none"/></g><rect x="55" y="69.4" width="8" height="3.2" fill="#6a9a94" opacity="0.7"/>
<g fill="#bfeae2" stroke="#6fb0a6" stroke-width="0.6"><rect x="12.8" y="324" width="32" height="9.6"/><rect x="44.6" y="321.8" width="18" height="16.3" rx="4"/><rect x="50.3" y="338" width="8" height="17.2"/><circle cx="54.3" cy="329" r="5"/><ellipse cx="37.2" cy="328.8" rx="3.6" ry="2.4" fill="none" stroke="#3d6f66"/><path d="M15 327H44M15 330.5H44M20 324V333.6M27 324V333.6M52 340V354M56 340V354" fill="none" stroke-width="0.4"/></g><circle cx="54.9" cy="351.8" r="1.4" fill="#3d6f66"/><path d="M44 333h2M61 333h2" stroke="#3d6f66" stroke-width="1.5"/>
<g fill="#bfeae2" stroke="#6fb0a6" stroke-width="0.6"><rect x="646" y="23" width="9.3" height="8.4" rx="2.5"/><rect x="648" y="31.4" width="3.6" height="6.6"/><rect x="655.3" y="26.5" width="20.5" height="2.4"/><rect x="675.8" y="21.2" width="9.2" height="9.3" rx="2"/><rect x="678.6" y="14.7" width="3.7" height="6.5"/><rect x="646" y="48.8" width="6.6" height="2.6" rx="1"/><rect x="652.6" y="48.9" width="23.2" height="2.4"/><rect x="661.8" y="47.2" width="2.8" height="5.6"/><rect x="675.8" y="43.5" width="9.2" height="9.3" rx="2"/><rect x="678.6" y="35" width="3.7" height="8.5"/><path d="M642.4 74C642.4 68 652.6 68 652.6 74Z"/><rect x="643.4" y="73.5" width="8.2" height="3"/><rect x="645" y="76" width="3.8" height="9.3"/><rect x="652.6" y="70.1" width="23.2" height="2.4"/><rect x="674.8" y="63.9" width="10.2" height="12.1" rx="2"/><rect x="677.6" y="57.4" width="4.7" height="6.5"/></g>
<path d="M643 71.5Q647.5 68 652 71.5" stroke="#2a3a38" stroke-width="1.3" fill="none"/><circle cx="650" cy="26.5" r="1" fill="#3d6f66"/>
<g fill="#bfeae2" stroke="#6fb0a6" stroke-width="0.5"><rect x="1053.3" y="137.1" width="35.1" height="2.6"/><rect x="1051.2" y="149.2" width="37.2" height="2.6"/><rect x="1053.3" y="161.4" width="35.1" height="2.6"/><rect x="1060.7" y="172.0" width="27.7" height="2.6"/><rect x="1055.7" y="169" width="3.2" height="8.5"/></g>
<g fill="#bfeae2" stroke="#3d6f66" stroke-width="0.9"><rect x="1048.4" y="135.8" width="5.2" height="5.2" rx="1.6"/><rect x="1088.4" y="135.8" width="5.2" height="5.2" rx="1.6"/><rect x="1046.4" y="147.9" width="5.2" height="5.2" rx="1.6"/><rect x="1088.4" y="147.9" width="5.2" height="5.2" rx="1.6"/><rect x="1088.4" y="160.1" width="5.2" height="5.2" rx="1.6"/><rect x="1088.5" y="170.5" width="5" height="5.5" rx="1.5"/></g>
<path d="M1049.5 160.5L1052 165" stroke="#6fb0a6" stroke-width="2"/><path d="M1091 176V182" stroke="#6fb0a6" stroke-width="1"/>
<g fill="#bfeae2" stroke="#3d6f66" stroke-width="1"><rect x="1054.7" y="202.8" width="8.4" height="11.6" rx="3"/><rect x="1073.7" y="202.8" width="11.6" height="11.6" rx="2.5"/></g><path d="M1056 205.5H1062M1056 211.5H1062M1075 205.5H1084M1075 211.5H1084M1079.5 203V214" stroke="#3d6f66" stroke-width="0.7"/>
<g fill="#bfeae2" stroke="#6fb0a6" stroke-width="0.6"><path d="M709.5 305.5L714.5 302.5L726 318L721 321Z"/><path d="M694.2 332.6L700 330.2L721.9 330.2L721.9 335.1L700 335.1Z"/><rect x="712.7" y="333.9" width="5.5" height="10.5"/><path d="M717 324L727 314.5L738 325L728 336.5Z"/><circle cx="728.7" cy="326" r="4.8"/></g><path d="M708 302L712 306" stroke="#3a6a60" stroke-width="0.6"/><rect x="699" y="331.2" width="4" height="3" fill="#5a8a80"/></svg>
<div class="ti" style="left:181.2px;top:55.5px"><span class="br">[</span><span class="tc" style="width:107.9px">齿条拉杆内球头</span><span class="br">]</span></div>
<div class="bu" style="left:183.0px;top:79.9px"></div>
<div class="t" style="left:193.0px;top:78.5px;width:39.2px">使用部位</div>
<div class="t" style="left:193.0px;top:94.4px;width:127.4px">位于方向机和转向横接头之间</div>
<div class="bu" style="left:183.0px;top:114.3px"></div>
<div class="t" style="left:193.0px;top:112.9px;width:39.2px">产品功能</div>
<div class="t" style="left:193.0px;top:126.8px;width:196.0px">通过球关节的转动和摆动，随轮胎上下运动，</div>
<div class="t" style="left:193.0px;top:139.4px;width:147.0px">并将方向盘的操舵力传输给轮胎。</div>

<div class="ti" style="left:181.2px;top:336.5px"><span class="br">[</span><span class="tc" style="width:46.3px">横接头</span><span class="br">]</span></div>
<div class="bu" style="left:183.0px;top:360.9px"></div>
<div class="t" style="left:193.0px;top:359.5px;width:39.2px">使用部位</div>
<div class="t" style="left:193.0px;top:375.4px;width:147.0px">位于齿轮齿条拉杆和转向节臂之间</div>
<div class="bu" style="left:183.0px;top:395.3px"></div>
<div class="t" style="left:193.0px;top:393.9px;width:39.2px">产品功能</div>
<div class="t" style="left:193.0px;top:407.8px;width:196.0px">通过球关节的转动和摆动，随轮胎上下运动，</div>
<div class="t" style="left:193.0px;top:420.4px;width:147.0px">并将方向盘的操舵力传输给轮胎。</div>

<div class="ti" style="left:787.9px;top:49.1px"><span class="br">[</span><span class="tc" style="width:77.1px">稳定杆连杆</span><span class="br">]</span></div>
<div class="bu" style="left:789.6px;top:73.5px"></div>
<div class="t" style="left:799.2px;top:72.1px;width:39.2px">使用部位</div>
<div class="t" style="left:799.2px;top:88.0px;width:107.8px">位于稳定杆和悬挂臂之间</div>
<div class="bu" style="left:789.6px;top:107.9px"></div>
<div class="t" style="left:799.2px;top:106.5px;width:39.2px">产品功能</div>
<div class="t" style="left:799.2px;top:120.4px;width:166.6px">通过球关节与抵制车体的横向晃动的稳</div>
<div class="t" style="left:799.2px;top:133.0px;width:166.6px">定杆相连接，提高稳定杆的稳定效果。</div>

<div class="ti" style="left:1033.8px;top:271.8px"><span class="br">[</span><span class="tc" style="width:107.9px">后悬挂控制臂杆</span><span class="br">]</span></div>
<div class="bu" style="left:1035.6px;top:296.2px"></div>
<div class="t" style="left:1045.4px;top:294.8px;width:39.2px">使用部位</div>
<div class="t" style="left:1045.4px;top:310.7px;width:117.6px">位于后悬挂底盘和轮胎之间</div>
<div class="bu" style="left:1035.6px;top:330.6px"></div>
<div class="t" style="left:1045.4px;top:329.2px;width:39.2px">产品功能</div>
<div class="t" style="left:1045.4px;top:343.1px;width:147.0px">通过球关节的转动和摆动，及橡胶</div>
<div class="t" style="left:1045.4px;top:355.7px;width:156.8px">衬套的扭动来支撑轮胎的上下运动。</div>

<div class="ti" style="left:846.0px;top:330.7px"><span class="br">[</span><span class="tc" style="width:107.9px">摆臂悬挂球接头</span><span class="br">]</span></div>
<div class="bu" style="left:848.8px;top:355.1px"></div>
<div class="t" style="left:859.0px;top:353.7px;width:39.2px">使用部位</div>
<div class="t" style="left:859.0px;top:369.6px;width:137.2px">位于主销摆臂和轮胎转向节之间</div>
<div class="bu" style="left:848.8px;top:389.5px"></div>
<div class="t" style="left:859.0px;top:388.1px;width:39.2px">产品功能</div>
<div class="t" style="left:859.0px;top:402.0px;width:196.0px">通过球关节的转动和摆动，随轮胎上下运动，</div>
<div class="t" style="left:859.0px;top:414.6px;width:196.0px">操舵方向盘时，球关节成为轮胎转动的中心。</div>

<script>
(function(){var s=document.createElement('span');s.style.cssText='position:absolute;left:0;top:0;visibility:hidden;white-space:nowrap;font:100px "Liberation Sans",sans-serif';s.textContent='\u9f7f\u6761\u62c9\u6746';document.body.appendChild(s);var w=s.getBoundingClientRect().width;document.body.removeChild(s);if(w<360){document.documentElement.className+=' nocjk';}})();
</script>
</body></html>
